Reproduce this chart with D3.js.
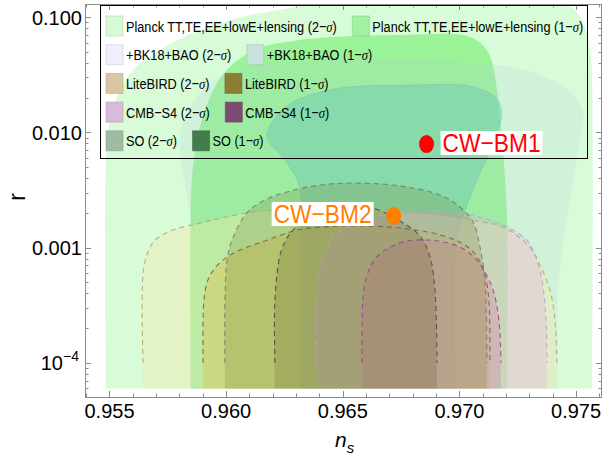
<!DOCTYPE html>
<html>
<head>
<meta charset="utf-8">
<script src="https://cdn.jsdelivr.net/npm/d3@7"></script>
<style>
    body { margin: 0; background: #fff; }
    text { font-family: 'Liberation Sans', Arial, sans-serif; }
</style>
</head>
<body>
<div class="chart"></div>
<script>
// contour outlines [n_s, r]
let planck2 = [[0.95485, 6e-5], [0.95485, 0.00575], [0.95502, 0.0128], [0.95545, 0.0233], [0.95601, 0.0347],
    [0.95716, 0.0518], [0.95888, 0.0771], [0.96102, 0.104], [0.96274, 0.120], [0.9645, 0.14], [0.9655, 0.17],
    [0.9730, 0.17], [0.97452, 0.130], [0.97504, 0.110], [0.97542, 0.0771], [0.97559, 0.0518], [0.97568, 0.0314],
    [0.97568, 6e-5]];
let planck1 = [[0.95849, 6e-5], [0.95849, 0.00259], [0.95862, 0.00575], [0.95909, 0.0156], [0.95995, 0.0333],
    [0.96124, 0.0518], [0.96316, 0.0632], [0.96745, 0.0698], [0.97045, 0.0671], [0.97122, 0.0497],
    [0.97161, 0.0233], [0.97186, 0.00703], [0.97204, 0.00173], [0.97204, 6e-5]];
let bk2 = [[0.95854, 6e-5], [0.95854, 0.00151], [0.95828, 0.00316], [0.95802, 0.00703], [0.95811, 0.0116],
    [0.95866, 0.0191], [0.95952, 0.0284], [0.96145, 0.0384], [0.96531, 0.0423], [0.97088, 0.0399],
    [0.97345, 0.0314], [0.97474, 0.0224], [0.97529, 0.0156], [0.97516, 0.0086], [0.97474, 0.00259],
    [0.97435, 0.00078], [0.97422, 0.000351], [0.97422, 6e-5]];
let bk1 = [[0.96321, 6e-5], [0.96321, 0.000953], [0.96312, 0.00349], [0.96252, 0.00575], [0.96175, 0.0091],
    [0.96231, 0.0150], [0.96304, 0.0191], [0.96488, 0.0242], [0.96788, 0.0257], [0.97045, 0.0252],
    [0.97152, 0.0202], [0.97182, 0.0150], [0.97131, 0.00703], [0.97066, 0.00349], [0.97015, 0.00184],
    [0.96981, 0.000953], [0.96981, 6e-5]];
let lite2 = [[0.95644, 6e-5], [0.95644, 0.000602], [0.95665, 0.000916], [0.95695, 0.00116], [0.95772, 0.00142],
    [0.95888, 0.00163], [0.96089, 0.00200], [0.96201, 0.00212], [0.96402, 0.00220], [0.96629, 0.00212],
    [0.96831, 0.00200], [0.96989, 0.00184], [0.97075, 0.00170], [0.97186, 0.00151], [0.97302, 0.00101],
    [0.97345, 0.000706], [0.97388, 0.000429], [0.97409, 0.000236], [0.97418, 6e-5]];
let lite1 = [[0.95901, 6e-5], [0.95905, 0.000351], [0.95922, 0.000524], [0.95952, 0.000665], [0.96004, 0.000829],
    [0.96059, 0.000953], [0.96175, 0.00116], [0.96304, 0.00142], [0.96415, 0.00151], [0.96574, 0.00154],
    [0.96745, 0.00148], [0.96916, 0.00129], [0.97024, 0.00105], [0.97079, 0.000812], [0.97109, 0.000578],
    [0.97126, 0.000351], [0.97131, 6e-5]];
let s4_2 = [[0.96389, 6e-5], [0.96389, 0.000351], [0.96402, 0.000639], [0.96432, 0.000953], [0.96458, 0.00124],
    [0.96531, 0.00157], [0.96629, 0.00184], [0.96788, 0.00200], [0.96989, 0.00200], [0.97088, 0.00184],
    [0.97204, 0.00151], [0.97289, 0.00116], [0.97324, 0.000863], [0.97354, 0.000524], [0.97371, 0.000236],
    [0.97375, 6e-5]];
let s4_1 = [[0.96582, 6e-5], [0.96586, 0.000351], [0.96604, 0.000578], [0.96646, 0.000829], [0.96745, 0.00110],
    [0.96874, 0.00116], [0.97002, 0.00101], [0.97075, 0.00078], [0.97109, 0.000614], [0.97144, 0.000429],
    [0.97169, 0.000236], [0.97178, 6e-5]];
let so2 = [[0.95995, 6e-5], [0.95995, 0.000351], [0.96004, 0.00078], [0.96025, 0.00116], [0.96089, 0.00200],
    [0.96166, 0.00259], [0.96261, 0.00304], [0.96402, 0.00349], [0.96561, 0.00363], [0.96745, 0.00342],
    [0.96916, 0.00286], [0.97002, 0.00225], [0.97058, 0.00167], [0.97088, 0.00101], [0.97109, 0.000524],
    [0.97118, 6e-5]];
let so1 = [[0.96209, 6e-5], [0.96209, 0.000351], [0.96231, 0.000863], [0.96256, 0.00116], [0.96286, 0.00142],
    [0.96381, 0.00192], [0.96488, 0.00225], [0.96629, 0.00220], [0.96745, 0.00170], [0.96831, 0.00126],
    [0.96874, 0.000829], [0.96895, 0.000429], [0.96904, 6e-5]];

let legendLabels = ['Planck TT,TE,EE+lowE+lensing (2−σ)', 'Planck TT,TE,EE+lowE+lensing (1−σ)',
    '+BK18+BAO (2−σ)', '+BK18+BAO (1−σ)', 'LiteBIRD (2−σ)', 'LiteBIRD (1−σ)',
    'CMB−S4 (2−σ)', 'CMB−S4 (1−σ)', 'SO (2−σ)', 'SO (1−σ)'];
let swatchColors = ['#d6fad6', '#a2f0a2', '#f0f0fa', '#c8e2dc', '#d8c6a6', '#8c7c34',
    '#d6bcd6', '#7c4c74', '#a2baa2', '#427c4c'];

let bmNames = ['CW−BM1', 'CW−BM2'];
let bmNs = [0.96859, 0.96718];
let bmR = [0.00791, 0.00188];
let bmColors = ['#ff0000', '#ff8000'];

let xTicks = [0.955, 0.960, 0.965, 0.970, 0.975];
let xTickLabels = ['0.955', '0.960', '0.965', '0.970', '0.975'];
let yTicks = [0.1, 0.01, 0.001, 0.0001];
let yTickLabels = ['0.100', '0.010', '0.001', '10'];

const _width = 603, _height = 460;
let plot = {left: 85, right: 602, top: 4, bottom: 397};

let x = d3.scaleLinear().domain([0.95395, 0.97611]).range([plot.left, plot.right]);
let y = d3.scaleLog().domain([5.06e-5, 0.1297]).range([plot.bottom, plot.top]);

let svg = d3.select('.chart')
    .append('svg')
    .attr('width', _width)
    .attr('height', _height)
    .style('display', 'block');
svg.append('rect').attr('width', _width).attr('height', _height).attr('fill', '#fff');

svg.append('clipPath').attr('id', 'clip')
    .append('rect')
    .attr('x', plot.left).attr('y', plot.top)
    .attr('width', plot.right - plot.left).attr('height', plot.bottom - plot.top);

let layers = [
    {pts: planck2, fill: 'rgb(150,245,150)', op: .37},
    {pts: planck1, fill: 'rgb(105,236,100)', op: .55},
    {pts: bk2, fill: 'rgb(170,205,215)', op: .18},
    {pts: bk1, fill: 'rgb(75,172,192)', op: .27, edge: 'rgba(90,150,190,.3)'},
    {pts: lite2, fill: 'rgb(250,230,165)', op: .36, dash: 'rgb(185,160,115)'},
    {pts: lite1, fill: 'rgb(230,170,40)', op: .28, dash: 'rgb(120,95,45)'},
    {pts: s4_2, fill: 'rgb(228,170,240)', op: .3, dash: 'rgb(185,160,205)'},
    {pts: s4_1, fill: 'rgb(212,115,175)', op: .3, dash: 'rgb(150,60,150)'},
    {pts: so2, fill: 'rgb(120,130,60)', op: .25, dash: 'rgb(115,120,115)'},
    {pts: so1, fill: 'rgb(100,80,40)', op: .2, dash: 'rgb(70,70,70)'}
];

let line = d3.line()
    .x(d => x(d[0]))
    .y(d => y(d[1]))
    .curve(d3.curveCatmullRom.alpha(0.5));

let regions = svg.append('g').attr('clip-path', 'url(#clip)');
layers.forEach(l => {
    regions.append('path')
        .attr('d', line(l.pts) + 'Z')
        .attr('fill', l.fill)
        .attr('fill-opacity', l.op)
        .attr('stroke', 'none');
    if (l.edge) {
        regions.append('path')
            .attr('d', line(l.pts))
            .attr('fill', 'none')
            .attr('stroke', l.edge)
            .attr('stroke-width', 0.8);
    }
});
// dashed contour edges, drawn down to r = 1e-4 only
layers.filter(l => l.dash).forEach(l => {
    regions.append('path')
        .attr('d', line(l.pts.map(d => [d[0], Math.max(d[1], 1e-4)])))
        .attr('fill', 'none')
        .attr('stroke', l.dash)
        .attr('stroke-width', 1.1)
        .attr('stroke-opacity', .85)
        .attr('stroke-dasharray', '5,4');
});

// frame and ticks
let axisColor = '#8c8c8c';
let frame = svg.append('g').attr('stroke', axisColor).attr('stroke-width', 1).attr('fill', 'none');
frame.append('rect')
    .attr('x', plot.left + .5).attr('y', plot.top + .5)
    .attr('width', plot.right - plot.left - 1).attr('height', plot.bottom - plot.top);

let xMinor = d3.range(954, 977).map(d => d / 1000).filter(d => x(d) > plot.left && x(d) < plot.right);
xMinor.forEach(d => {
    let major = xTicks.some(t => Math.abs(t - d) < 1e-9);
    let len = major ? 6 : 3.5;
    let px = Math.round(x(d)) + .5;
    frame.append('line').attr('x1', px).attr('x2', px).attr('y1', plot.bottom).attr('y2', plot.bottom - len);
    frame.append('line').attr('x1', px).attr('x2', px).attr('y1', plot.top).attr('y2', plot.top + len);
});

let yMinor = [];
d3.range(-5, 0).forEach(e => d3.range(1, 10).forEach(k => yMinor.push(k * Math.pow(10, e))));
yMinor.filter(d => y(d) > plot.top && y(d) < plot.bottom).forEach(d => {
    let major = yTicks.some(t => Math.abs(t - d) / t < 1e-6);
    let len = major ? 6 : 3.5;
    let py = Math.round(y(d)) + .5;
    frame.append('line').attr('x1', plot.left).attr('x2', plot.left + len).attr('y1', py).attr('y2', py);
    frame.append('line').attr('x1', plot.right).attr('x2', plot.right - len).attr('y1', py).attr('y2', py);
});

// tick labels
svg.append('g').selectAll('text')
    .data(xTicks)
    .enter().append('text')
    .attr('x', d => x(d))
    .attr('y', 418)
    .attr('text-anchor', 'middle')
    .style('font-size', '20px')
    .text((d, i) => xTickLabels[i]);

svg.append('g').selectAll('text')
    .data(yTicks)
    .enter().append('text')
    .attr('x', (d, i) => i === 3 ? 63 : 82)
    .attr('y', d => y(d) + 7.5)
    .attr('text-anchor', 'end')
    .style('font-size', '20px')
    .text((d, i) => yTickLabels[i]);
svg.append('text')
    .attr('x', 63).attr('y', y(1e-4) - 2)
    .style('font-size', '14px')
    .text('−4');

// axis titles
let xt = svg.append('text').attr('x', 335).attr('y', 447);
xt.append('tspan').style('font-style', 'italic').style('font-size', '21px').text('n');
xt.append('tspan').style('font-style', 'italic').style('font-size', '15px').attr('dy', 6).text('s');
svg.append('text')
    .attr('transform', 'translate(25,197) rotate(-90)')
    .attr('text-anchor', 'middle')
    .style('font-size', '23px')
    .text('r');

// legend
let legend = svg.append('g');
legend.append('rect')
    .attr('x', 100.5).attr('y', 5.5).attr('width', 487).attr('height', 153)
    .attr('fill', 'none').attr('stroke', '#000').attr('stroke-width', 1);

function makeText(g, label) {
    let t = g.append('text').style('font-size', '15.5px');
    let parts = label.split('σ');
    t.append('tspan').text(parts[0]);
    t.append('tspan').style('font-family', "'Liberation Serif', serif").style('font-style', 'italic').text('σ');
    t.append('tspan').text(parts[1]);
    return t;
}

// narrow the legend font so the long Planck entry is about 211px wide, as in the figure
let probe = makeText(legend, legendLabels[0]);
let squeeze = 211 / probe.node().getBBox().width;
probe.remove();

function legendText(g, tx, ty, label) {
    let t = makeText(g, label)
        .attr('transform', `translate(${tx},${ty}) scale(${squeeze},1)`);
    return tx + t.node().getBBox().width * squeeze;
}

function swatch(g, sx, cy, color) {
    g.append('rect')
        .attr('x', sx).attr('y', cy - 10).attr('width', 17).attr('height', 20)
        .attr('fill', color)
        .attr('stroke', d3.color(color).darker(0.5))
        .attr('stroke-opacity', .55);
}

d3.range(5).forEach(row => {
    let cy = 26 + row * 28.7;
    swatch(legend, 106, cy, swatchColors[row * 2]);
    let end = legendText(legend, 126, cy + 5.5, legendLabels[row * 2]);
    let sx = end + 15.5;
    swatch(legend, sx, cy, swatchColors[row * 2 + 1]);
    legendText(legend, sx + 20, cy + 5.5, legendLabels[row * 2 + 1]);
});

// benchmark points
let labelOffsets = [{dx: 16, dy: 8, anchor: 'start'}, {dx: -22, dy: 7, anchor: 'end'}];
bmNames.forEach((name, i) => {
    let cx = x(bmNs[i]), cy = y(bmR[i]);
    let o = labelOffsets[i];
    let bg = svg.append('rect').attr('fill', '#fff');
    let t = svg.append('text')
        .attr('x', cx + o.dx)
        .attr('y', cy + o.dy)
        .attr('text-anchor', o.anchor)
        .attr('fill', bmColors[i])
        .attr('textLength', 98)
        .attr('lengthAdjust', 'spacingAndGlyphs')
        .style('font-size', '26px')
        .text(name);
    let b = t.node().getBBox();
    bg.attr('x', b.x - 2).attr('y', cy + o.dy - 21).attr('width', b.width + 4).attr('height', 24);
    svg.append('ellipse')
        .attr('cx', cx).attr('cy', cy)
        .attr('rx', 7.5).attr('ry', 9)
        .attr('fill', bmColors[i]);
});
</script>
</body>
</html>
